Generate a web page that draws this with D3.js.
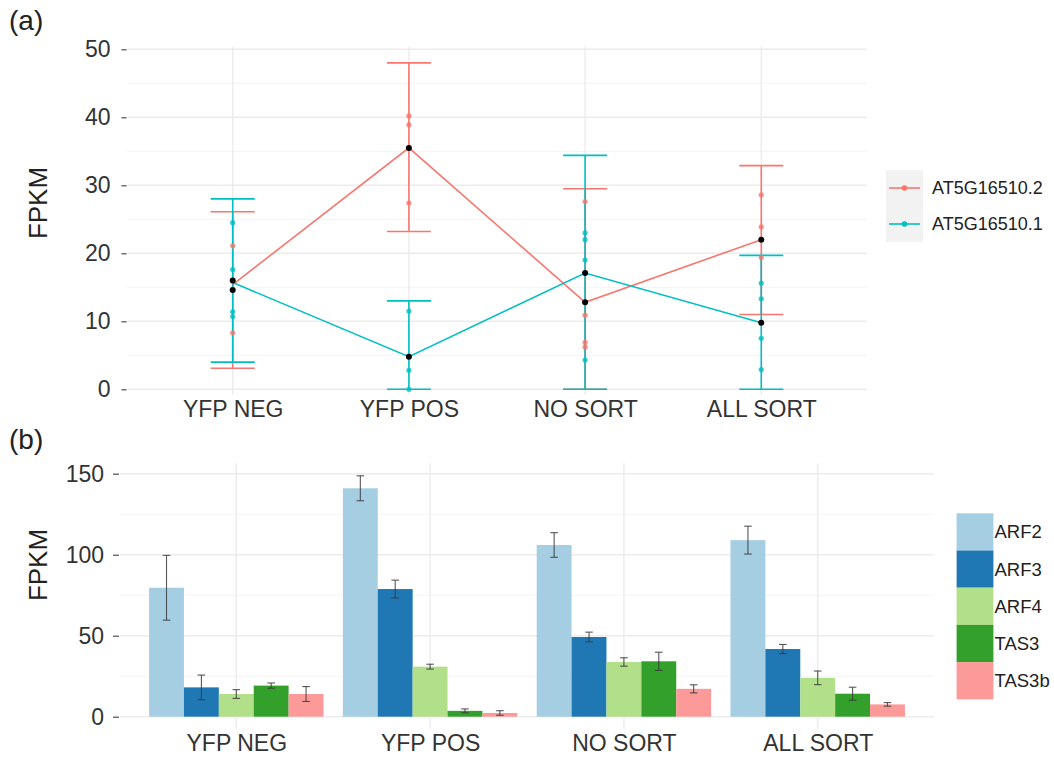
<!DOCTYPE html>
<html lang="en">
<head>
<meta charset="utf-8"/>
<title>FPKM panels</title>
<script src="https://d3js.org/d3.v7.min.js"></script>
<style>
  body { margin: 0; background: #fff; }
  text { font-family: "Liberation Sans", Helvetica, Arial, sans-serif; }
</style>
</head>
<body>
<script>
// ---- data ----
var categories = ["YFP NEG", "YFP POS", "NO SORT", "ALL SORT"];

// panel (a): two isoforms
var isoforms = ["AT5G16510.2", "AT5G16510.1"];
var isoColors = ["#F8766D", "#00BFC4"];
var lineA2 = [15.4, 35.5, 12.8, 22.0];   // line vertices
var lineA1 = [15.7, 4.8, 17.1, 9.8];
var meanA2 = [14.6, 35.5, 12.8, 22.0];   // black dots
var meanA1 = [16.0, 4.8, 17.1, 9.8];
var lowA2 = [3.1, 23.2, 0, 11.0];
var highA2 = [26.1, 48.0, 29.5, 32.9];
var lowA1 = [4.0, 0, 0, 0];
var highA1 = [28.0, 13.0, 34.4, 19.7];
var repsA2 = [[21.1, 8.3], [40.2, 38.9, 27.4], [27.6, 10.9, 6.9, 6.2], [28.6, 23.9, 19.4]];
var repsA1 = [[24.5, 17.6, 11.4, 10.7], [11.5, 2.8, 0], [23.0, 22.0, 19.0, 4.3], [15.6, 13.3, 7.5, 2.9]];
var ticksA = [0, 10, 20, 30, 40, 50];

// panel (b): genes
var genes = ["ARF2", "ARF3", "ARF4", "TAS3", "TAS3b"];
var geneColors = ["#a6cee3", "#1f78b4", "#b2df8a", "#33a02c", "#fb9a99"];
var fpkmARF2 = [79.6, 141.0, 106.0, 109.0];
var fpkmARF3 = [18.1, 78.8, 49.2, 41.8];
var fpkmARF4 = [14.0, 30.9, 33.8, 24.0];
var fpkmTAS3 = [19.2, 3.6, 34.2, 14.2];
var fpkmTAS3b = [14.0, 2.3, 17.2, 7.6];
var errARF2 = [20.0, 7.7, 7.6, 8.6];
var errARF3 = [7.6, 5.5, 3.0, 2.8];
var errARF4 = [2.7, 1.5, 2.6, 4.2];
var errTAS3 = [1.6, 1.2, 5.6, 4.0];
var errTAS3b = [4.6, 1.4, 2.5, 1.1];
var ticksB = [0, 50, 100, 150];

var w = 1054, h = 759;
var svg = d3.select("body").append("svg").attr("width", w).attr("height", h);

var majorGrid = "#ececec", minorGrid = "#f4f4f4";

// ================= panel (a) =================
var aLeft = 127, aRight = 867;
var xA = d3.scalePoint().domain(categories).range([aLeft, aRight]).padding(0.6);
var yA = d3.scaleLinear().domain([0, 50]).range([389.3, 49.3]);
var aTop = yA(50.4), aBottom = yA(-0.8);

var gA = svg.append("g");
// minor + major gridlines
gA.selectAll(".minor").data(d3.range(5, 50, 10)).enter().append("line")
  .attr("x1", aLeft).attr("x2", aRight)
  .attr("y1", function (d) { return yA(d); }).attr("y2", function (d) { return yA(d); })
  .attr("stroke", minorGrid).attr("stroke-width", 1);
gA.selectAll(".major").data(ticksA).enter().append("line")
  .attr("x1", aLeft).attr("x2", aRight)
  .attr("y1", function (d) { return yA(d); }).attr("y2", function (d) { return yA(d); })
  .attr("stroke", majorGrid).attr("stroke-width", 1.4);
gA.selectAll(".vgrid").data(categories).enter().append("line")
  .attr("x1", function (d) { return xA(d); }).attr("x2", function (d) { return xA(d); })
  .attr("y1", aTop).attr("y2", aBottom)
  .attr("stroke", majorGrid).attr("stroke-width", 1.4);

// y axis
var axA = d3.axisLeft(yA).tickValues(ticksA).tickSize(5).tickPadding(11);
var axAg = svg.append("g").attr("transform", "translate(" + (aLeft - 0.5) + ",0)").call(axA);
axAg.select(".domain").remove();
axAg.selectAll("line").attr("stroke", "#4d4d4d").attr("stroke-width", 1.2);
axAg.selectAll("text").attr("font-size", 23).attr("fill", "#333")
  .style("font-family", "'Liberation Sans', Helvetica, Arial, sans-serif");

// x labels
var axXA = d3.axisBottom(xA).tickSize(0).tickPadding(0);
var axXAg = svg.append("g").attr("transform", "translate(0," + 400 + ")").call(axXA);
axXAg.select(".domain").remove();
axXAg.selectAll("text").attr("font-size", 23).attr("fill", "#333").attr("dy", "0.75em")
  .style("font-family", "'Liberation Sans', Helvetica, Arial, sans-serif");

svg.append("text").attr("transform", "translate(47,203) rotate(-90)")
  .attr("text-anchor", "middle").attr("font-size", 26).attr("fill", "#222").text("FPKM");
svg.append("text").attr("x", 9).attr("y", 30).attr("font-size", 28).attr("fill", "#222").text("(a)");

var seriesA = [
  { name: isoforms[0], color: isoColors[0], line: lineA2, mean: meanA2, low: lowA2, high: highA2, reps: repsA2 },
  { name: isoforms[1], color: isoColors[1], line: lineA1, mean: meanA1, low: lowA1, high: highA1, reps: repsA1 }
];
var capHalf = 22;

seriesA.forEach(function (s) {
  var g = svg.append("g");
  categories.forEach(function (c, i) {
    var x = xA(c);
    g.append("line").attr("x1", x).attr("x2", x).attr("y1", yA(s.low[i])).attr("y2", yA(s.high[i]))
      .attr("stroke", s.color).attr("stroke-width", 1.6);
    [s.low[i], s.high[i]].forEach(function (v) {
      g.append("line").attr("x1", x - capHalf).attr("x2", x + capHalf).attr("y1", yA(v)).attr("y2", yA(v))
        .attr("stroke", s.color).attr("stroke-width", 1.6);
    });
  });
});

var lineGen = d3.line().x(function (d, i) { return xA(categories[i]); }).y(function (d) { return yA(d); });
seriesA.forEach(function (s) {
  svg.append("path").datum(s.line).attr("d", lineGen).attr("fill", "none")
    .attr("stroke", s.color).attr("stroke-width", 1.6);
});
seriesA.forEach(function (s) {
  categories.forEach(function (c, i) {
    svg.selectAll(null).data(s.reps[i]).enter().append("circle")
      .attr("cx", xA(c)).attr("cy", function (d) { return yA(d); }).attr("r", 2.6)
      .attr("fill", s.color).attr("fill-opacity", 0.8);
  });
});
seriesA.forEach(function (s) {
  svg.selectAll(null).data(s.mean).enter().append("circle")
    .attr("cx", function (d, i) { return xA(categories[i]); }).attr("cy", function (d) { return yA(d); })
    .attr("r", 3).attr("fill", "#000");
});

// legend (a)
var legA = svg.append("g");
seriesA.forEach(function (s, i) {
  var y0 = 170 + i * 36;
  legA.append("rect").attr("x", 886).attr("y", y0).attr("width", 37).attr("height", 36).attr("fill", "#f2f2f2");
  legA.append("line").attr("x1", 889).attr("x2", 920).attr("y1", y0 + 18).attr("y2", y0 + 18)
    .attr("stroke", s.color).attr("stroke-width", 1.6);
  legA.append("circle").attr("cx", 904.5).attr("cy", y0 + 18).attr("r", 2.8).attr("fill", s.color);
  legA.append("text").attr("x", 932).attr("y", y0 + 18).attr("dy", "0.35em")
    .attr("font-size", 18).attr("fill", "#222").text(s.name);
});

// ================= panel (b) =================
var bLeft = 120, bRight = 934;
var xB = d3.scalePoint().domain(categories).range([bLeft, bRight]).padding(0.6);
var stepB = xB.step();
var xSub = d3.scaleBand().domain(genes).range([-0.45 * stepB, 0.45 * stepB]);
var yB = d3.scaleLinear().domain([0, 150]).range([716.7, 473.7]);
var bTop = yB(156.4), bBottom = yB(-7.5);

var gB = svg.append("g");
gB.selectAll(".minor").data([25, 75, 125]).enter().append("line")
  .attr("x1", bLeft).attr("x2", bRight)
  .attr("y1", function (d) { return yB(d); }).attr("y2", function (d) { return yB(d); })
  .attr("stroke", minorGrid).attr("stroke-width", 1);
gB.selectAll(".major").data(ticksB).enter().append("line")
  .attr("x1", bLeft).attr("x2", bRight)
  .attr("y1", function (d) { return yB(d); }).attr("y2", function (d) { return yB(d); })
  .attr("stroke", majorGrid).attr("stroke-width", 1.4);
gB.selectAll(".vgrid").data(categories).enter().append("line")
  .attr("x1", function (d) { return xB(d); }).attr("x2", function (d) { return xB(d); })
  .attr("y1", bTop).attr("y2", bBottom)
  .attr("stroke", majorGrid).attr("stroke-width", 1.4);

var axB = d3.axisLeft(yB).tickValues(ticksB).tickSize(6).tickPadding(9);
var axBg = svg.append("g").attr("transform", "translate(" + (bLeft - 1) + ",0)").call(axB);
axBg.select(".domain").remove();
axBg.selectAll("line").attr("stroke", "#4d4d4d").attr("stroke-width", 1.2);
axBg.selectAll("text").attr("font-size", 23).attr("fill", "#333")
  .style("font-family", "'Liberation Sans', Helvetica, Arial, sans-serif");

var axXB = d3.axisBottom(xB).tickSize(0).tickPadding(0);
var axXBg = svg.append("g").attr("transform", "translate(0," + 734 + ")").call(axXB);
axXBg.select(".domain").remove();
axXBg.selectAll("text").attr("font-size", 23).attr("fill", "#333").attr("dy", "0.75em")
  .style("font-family", "'Liberation Sans', Helvetica, Arial, sans-serif");

svg.append("text").attr("transform", "translate(47,565) rotate(-90)")
  .attr("text-anchor", "middle").attr("font-size", 26).attr("fill", "#222").text("FPKM");
svg.append("text").attr("x", 9).attr("y", 449).attr("font-size", 28).attr("fill", "#222").text("(b)");

var valuesB = [fpkmARF2, fpkmARF3, fpkmARF4, fpkmTAS3, fpkmTAS3b];
var errsB = [errARF2, errARF3, errARF4, errTAS3, errTAS3b];
var barData = [];
genes.forEach(function (gname, gi) {
  categories.forEach(function (c, ci) {
    barData.push({ gene: gname, cat: c, value: valuesB[gi][ci], err: errsB[gi][ci], color: geneColors[gi] });
  });
});

svg.append("g").selectAll("rect").data(barData).enter().append("rect")
  .attr("x", function (d) { return xB(d.cat) + xSub(d.gene); })
  .attr("width", xSub.bandwidth())
  .attr("y", function (d) { return yB(d.value); })
  .attr("height", function (d) { return yB(0) - yB(d.value); })
  .attr("fill", function (d) { return d.color; });

var errG = svg.append("g").attr("stroke", "#3a3a3a").attr("stroke-width", 1.1).attr("stroke-opacity", 0.85);
barData.forEach(function (d) {
  var cx = xB(d.cat) + xSub(d.gene) + xSub.bandwidth() / 2;
  var lo = yB(d.value - d.err), hi = yB(d.value + d.err);
  errG.append("line").attr("x1", cx).attr("x2", cx).attr("y1", lo).attr("y2", hi);
  errG.append("line").attr("x1", cx - 3.8).attr("x2", cx + 3.8).attr("y1", lo).attr("y2", lo);
  errG.append("line").attr("x1", cx - 3.8).attr("x2", cx + 3.8).attr("y1", hi).attr("y2", hi);
});

// legend (b)
var legB = svg.append("g");
genes.forEach(function (gname, i) {
  var y0 = 513.3 + i * 37.2;
  legB.append("rect").attr("x", 956.6).attr("y", y0).attr("width", 36.8).attr("height", 37.2)
    .attr("fill", geneColors[i]);
  legB.append("text").attr("x", 994.5).attr("y", y0 + 18.6).attr("dy", "0.35em")
    .attr("font-size", 18.5).attr("fill", "#222").text(gname);
});
</script>
</body>
</html>
